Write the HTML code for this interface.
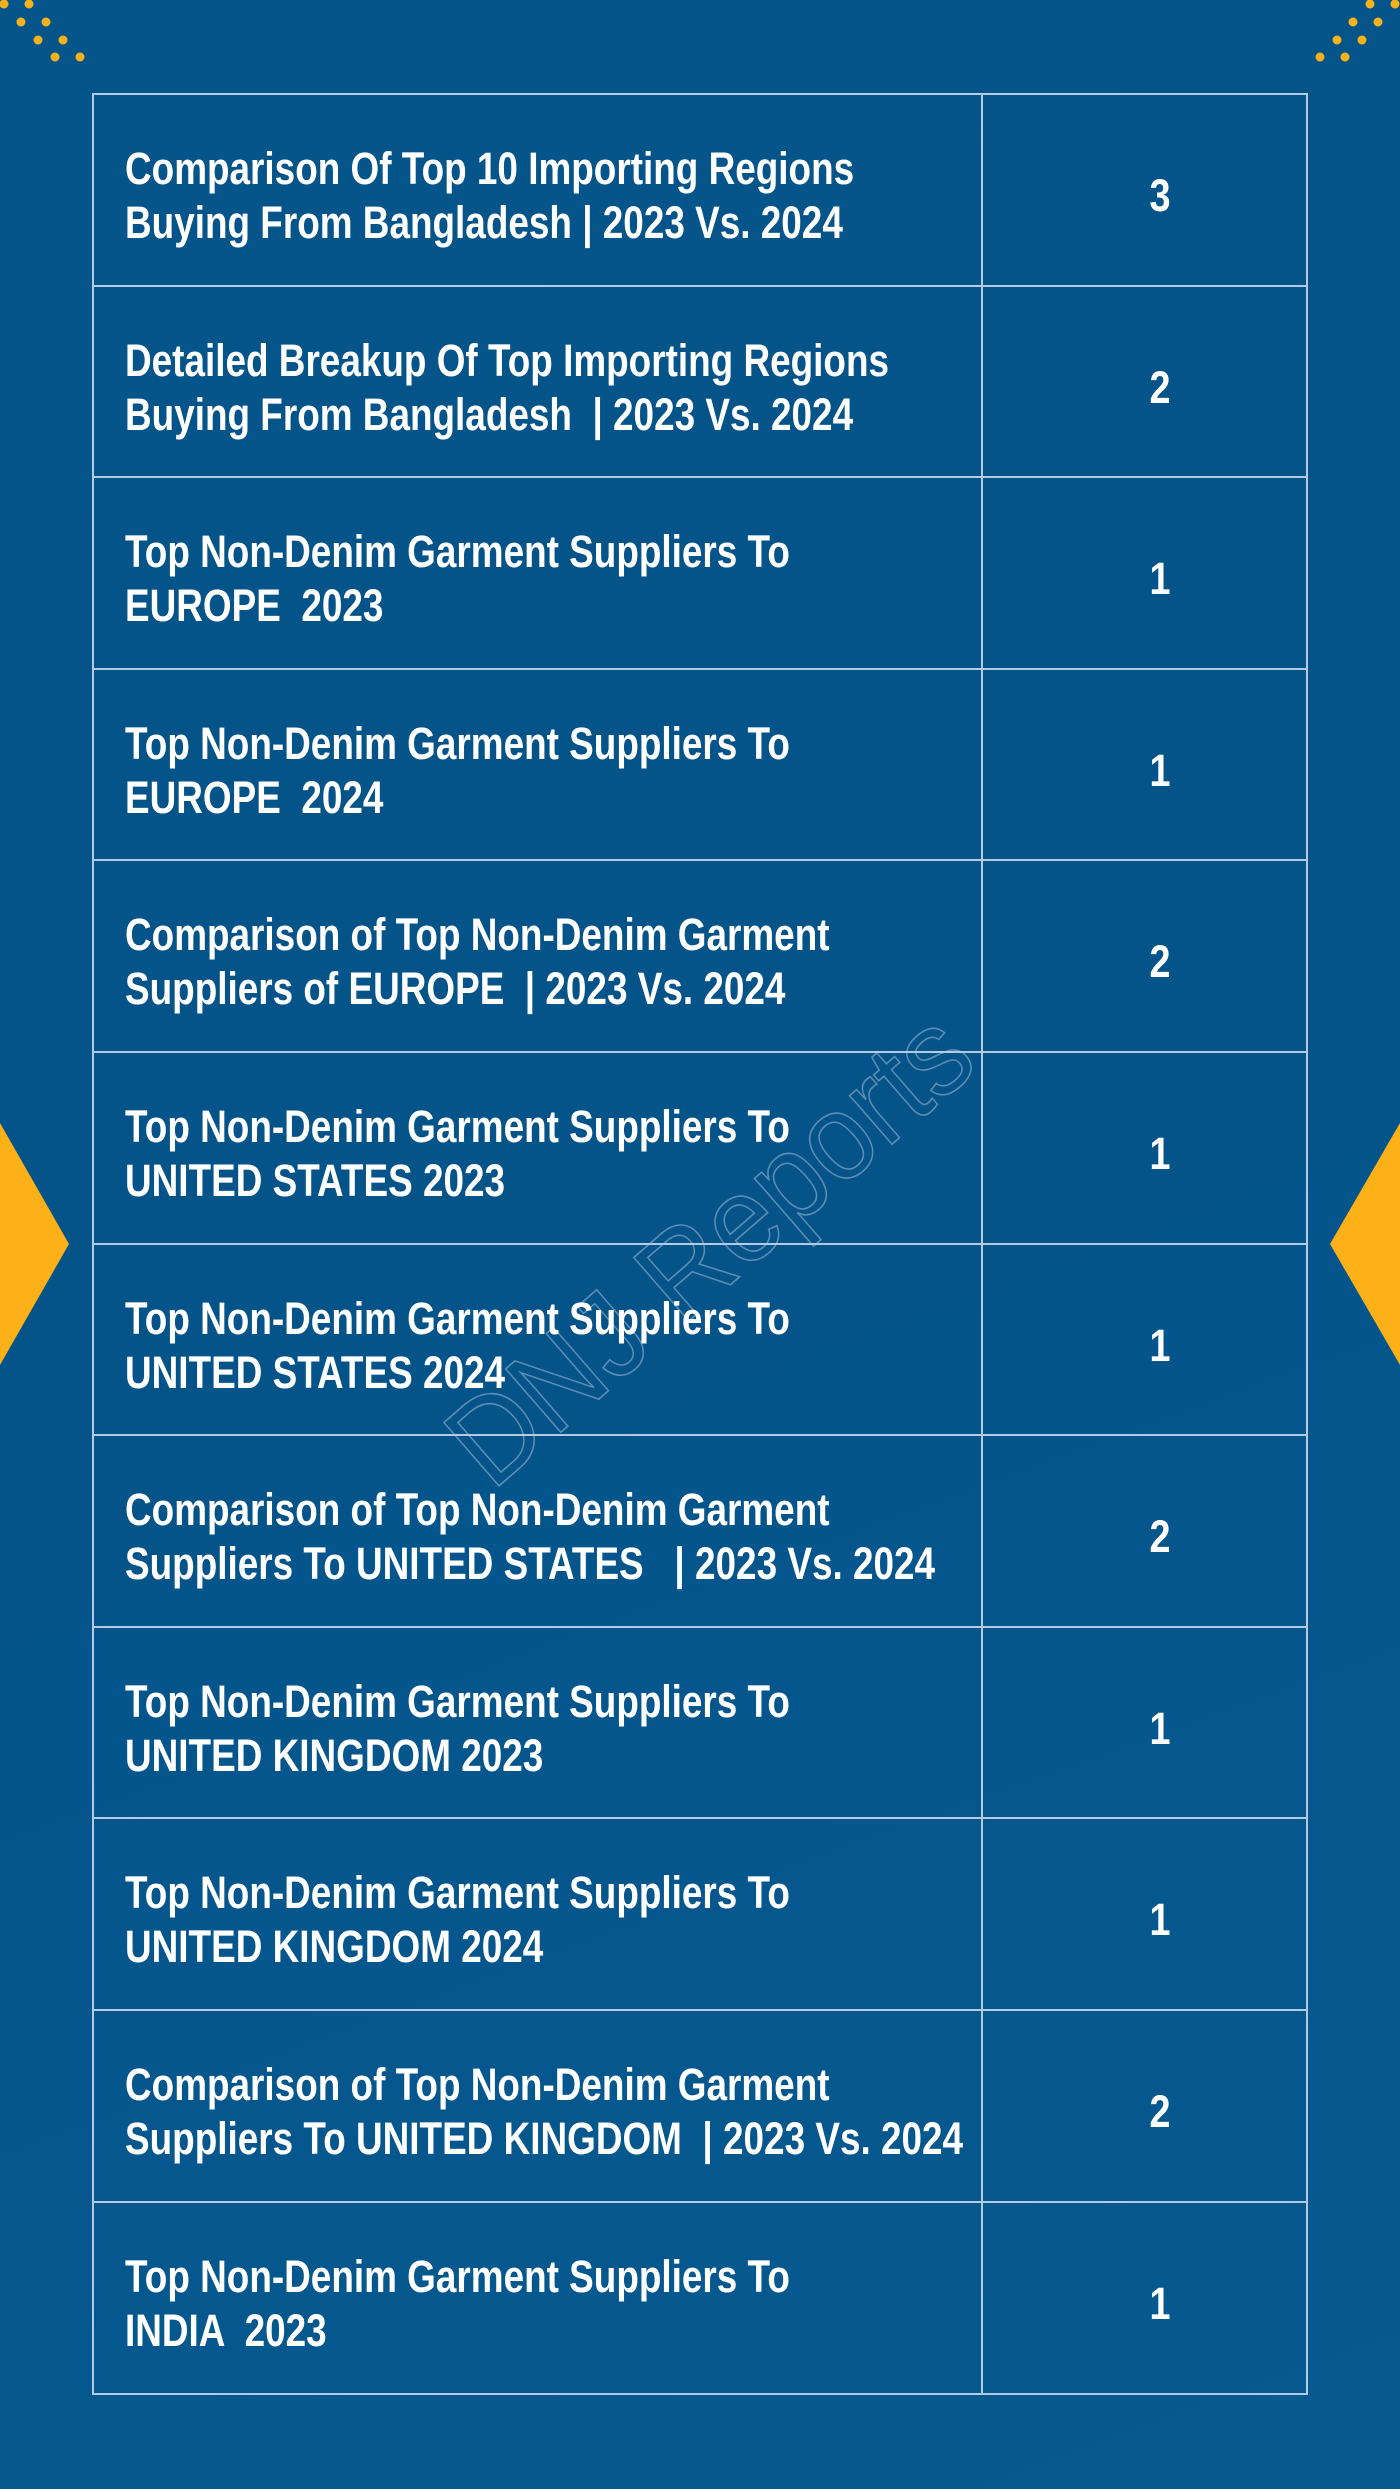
<!DOCTYPE html>
<html>
<head>
<meta charset="utf-8">
<style>
  html, body { margin:0; padding:0; }
  body { width:1400px; height:2489px; overflow:hidden; position:relative;
         background:#05548a; font-family:"Liberation Sans", Arial, sans-serif; }
  .bg { position:absolute; left:0; top:0; width:1400px; height:2489px;
        background: linear-gradient(160deg, #05558b 0%, #04548a 50%, #065a90 100%); }
  .hl { position:absolute; left:92px; width:1216px; height:2px; background:#b3cbe2; }
  .vl { position:absolute; top:93px; width:2px; height:2302px; background:#b3cbe2; }
  .txt { position:absolute; left:125px; color:#fff; font-weight:bold; font-size:45px;
         line-height:54px; white-space:pre; transform:scaleX(0.82); transform-origin:0 0; }
  .num { position:absolute; left:1100px; width:120px; text-align:center; color:#fff;
         font-weight:bold; font-size:45px; line-height:54px; transform:scaleX(0.84); transform-origin:60px 0; }
</style>
</head>
<body>
<div class="bg"></div>

<svg width="1400" height="2489" style="position:absolute;left:0;top:0">
  <g fill="#f6b21b">
    <circle cx="4" cy="4" r="4.5"/><circle cx="29" cy="4" r="4.5"/>
    <circle cx="21" cy="22" r="4.5"/><circle cx="46" cy="22" r="4.5"/>
    <circle cx="38" cy="40" r="4.5"/><circle cx="63" cy="40" r="4.5"/>
    <circle cx="55" cy="57" r="4.5"/><circle cx="80" cy="57" r="4.5"/>
    <circle cx="1370" cy="4" r="4.5"/><circle cx="1395" cy="4" r="4.5"/>
    <circle cx="1353" cy="22" r="4.5"/><circle cx="1378" cy="22" r="4.5"/>
    <circle cx="1337" cy="40" r="4.5"/><circle cx="1362" cy="40" r="4.5"/>
    <circle cx="1320" cy="57" r="4.5"/><circle cx="1345" cy="57" r="4.5"/>
  </g>
  <polygon points="0,1123 69,1244 0,1365" fill="#fbb117"/>
  <polygon points="1400,1123 1330,1244 1400,1365" fill="#fbb117"/>
  <text x="0" y="0" transform="translate(492,1492) rotate(-41)" font-family="Liberation Sans, sans-serif"
        font-size="122" fill="none" stroke="rgba(200,210,230,0.45)" stroke-width="1.6"
        textLength="648" lengthAdjust="spacingAndGlyphs">DNJ Reports</text>
</svg>

<div class="hl" style="top:93px"></div>
<div class="hl" style="top:285px"></div>
<div class="hl" style="top:476px"></div>
<div class="hl" style="top:668px"></div>
<div class="hl" style="top:859px"></div>
<div class="hl" style="top:1051px"></div>
<div class="hl" style="top:1243px"></div>
<div class="hl" style="top:1434px"></div>
<div class="hl" style="top:1626px"></div>
<div class="hl" style="top:1817px"></div>
<div class="hl" style="top:2009px"></div>
<div class="hl" style="top:2201px"></div>
<div class="hl" style="top:2393px"></div>
<div class="vl" style="left:92px"></div>
<div class="vl" style="left:981px"></div>
<div class="vl" style="left:1306px"></div>

<div class="txt" style="top:142px">Comparison Of Top 10 Importing Regions
Buying From Bangladesh | 2023 Vs. 2024</div>
<div class="num" style="top:169px">3</div>

<div class="txt" style="top:334px">Detailed Breakup Of Top Importing Regions
Buying From Bangladesh  | 2023 Vs. 2024</div>
<div class="num" style="top:361px">2</div>

<div class="txt" style="top:525px">Top Non-Denim Garment Suppliers To
EUROPE  2023</div>
<div class="num" style="top:552px">1</div>

<div class="txt" style="top:717px">Top Non-Denim Garment Suppliers To
EUROPE  2024</div>
<div class="num" style="top:744px">1</div>

<div class="txt" style="top:908px">Comparison of Top Non-Denim Garment
Suppliers of EUROPE  | 2023 Vs. 2024</div>
<div class="num" style="top:935px">2</div>

<div class="txt" style="top:1100px">Top Non-Denim Garment Suppliers To
UNITED STATES 2023</div>
<div class="num" style="top:1127px">1</div>

<div class="txt" style="top:1292px">Top Non-Denim Garment Suppliers To
UNITED STATES 2024</div>
<div class="num" style="top:1319px">1</div>

<div class="txt" style="top:1483px">Comparison of Top Non-Denim Garment
Suppliers To UNITED STATES   | 2023 Vs. 2024</div>
<div class="num" style="top:1510px">2</div>

<div class="txt" style="top:1675px">Top Non-Denim Garment Suppliers To
UNITED KINGDOM 2023</div>
<div class="num" style="top:1702px">1</div>

<div class="txt" style="top:1866px">Top Non-Denim Garment Suppliers To
UNITED KINGDOM 2024</div>
<div class="num" style="top:1893px">1</div>

<div class="txt" style="top:2058px">Comparison of Top Non-Denim Garment
Suppliers To UNITED KINGDOM  | 2023 Vs. 2024</div>
<div class="num" style="top:2085px">2</div>

<div class="txt" style="top:2250px">Top Non-Denim Garment Suppliers To
INDIA  2023</div>
<div class="num" style="top:2277px">1</div>

</body>
</html>
